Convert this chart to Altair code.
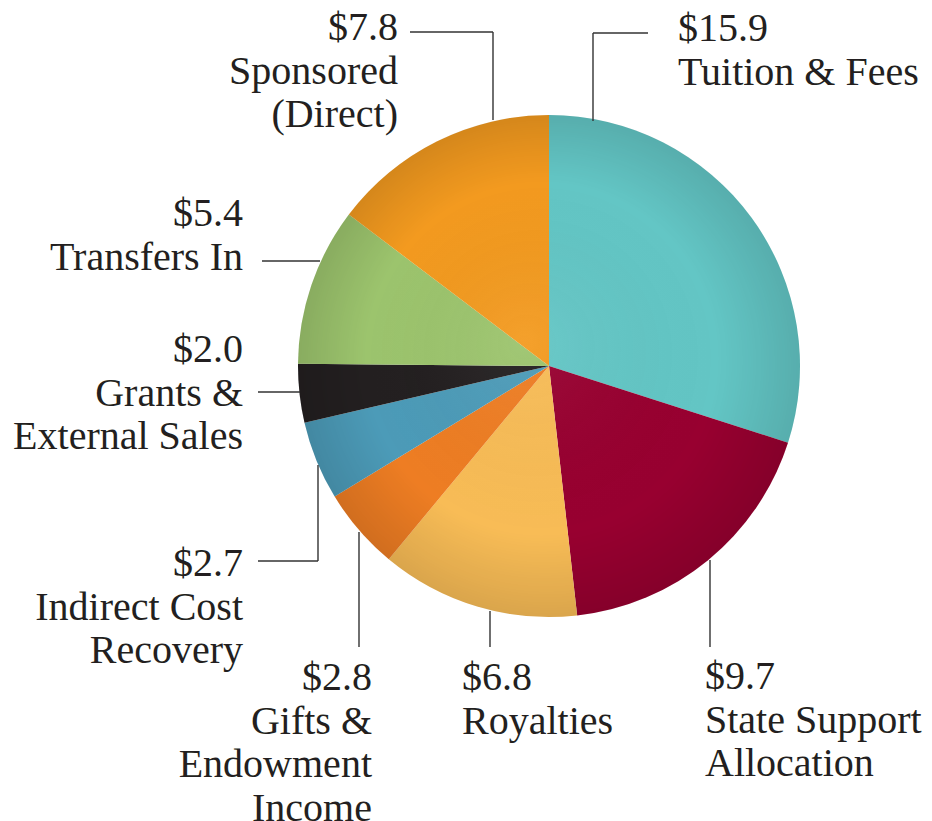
import altair as alt
import pandas as pd

# ---------------- data ----------------
categories = [
    "Tuition & Fees",
    "State Support Allocation",
    "Royalties",
    "Gifts & Endowment Income",
    "Indirect Cost Recovery",
    "Grants & External Sales",
    "Transfers In",
    "Sponsored (Direct)",
]
values = [15.9, 9.7, 6.8, 2.8, 2.7, 2.0, 5.4, 7.8]
label_lines = [
    ["Tuition & Fees"],
    ["State Support", "Allocation"],
    ["Royalties"],
    ["Gifts &", "Endowment", "Income"],
    ["Indirect Cost", "Recovery"],
    ["Grants &", "External Sales"],
    ["Transfers In"],
    ["Sponsored", "(Direct)"],
]
colors = [
    "#63C6C5",
    "#980030",
    "#F8BC56",
    "#EE7D23",
    "#4C9BB8",
    "#231F20",
    "#9CC46D",
    "#F39A1F",
]

# ---------------- layout (page pixels) ----------------
OFF = 8  # page margin
CX, CY, R = 549 - OFF, 366 - OFF, 251
LINE_H = 43.5
# first-line baseline anchor and alignment of each label block
label_anchor = [
    (678, 41, "left"),
    (705, 689, "left"),
    (462, 690, "left"),
    (372, 690, "right"),
    (243, 576, "right"),
    (243, 362, "right"),
    (243, 226, "right"),
    (398, 40, "right"),
]
# leader-line polylines
leaders = [
    [(648, 33), (593, 33), (593, 121)],
    [(710, 647), (710, 560)],
    [(490, 647), (490, 611)],
    [(359, 647), (359, 532)],
    [(258, 561), (318, 561), (318, 465)],
    [(258, 392), (300, 392)],
    [(262, 261), (320, 261)],
    [(410, 32), (493, 32), (493, 120)],
]

FONT = "Liberation Serif"
TXT = "#231F20"

# ---------------- tables ----------------
pie_df = pd.DataFrame(
    {"category": categories, "value": values, "order": list(range(len(values))), "color": colors}
)

rows = []
for i, (v, lines) in enumerate(zip(values, label_lines)):
    ax, ay, al = label_anchor[i]
    for j, t in enumerate([f"${v:.1f}"] + lines):
        rows.append({"x": ax - OFF, "y": ay - OFF + j * LINE_H, "text": t, "align": al})
text_df = pd.DataFrame(rows)

segs = []
for pts in leaders:
    for (x1, y1), (x2, y2) in zip(pts[:-1], pts[1:]):
        segs.append({"x": x1 - OFF, "y": y1 - OFF, "x2": x2 - OFF, "y2": y2 - OFF})
seg_df = pd.DataFrame(segs)

# ---------------- chart ----------------
pie = (
    alt.Chart(pie_df)
    .mark_arc(outerRadius=R, strokeWidth=0)
    .encode(
        theta=alt.Theta("value:Q", stack=True),
        order=alt.Order("order:Q"),
        color=alt.Color("color:N", scale=None),
        x=alt.value(CX),
        y=alt.value(CY),
    )
)

# subtle edge shading, as in the reference's lit pie
shade = (
    alt.Chart(pd.DataFrame({"k": [0]}))
    .mark_arc(
        outerRadius=R,
        theta=0,
        theta2=6.2832,
        strokeWidth=0,
        color=alt.RadialGradient(
            gradient="radial",
            x1=0.45, y1=0.45, r1=0,
            x2=0.5, y2=0.5, r2=0.5,
            stops=[
                alt.GradientStop(color="rgba(255,255,255,0.06)", offset=0),
                alt.GradientStop(color="rgba(0,0,0,0)", offset=0.7),
                alt.GradientStop(color="rgba(0,0,0,0.12)", offset=1),
            ],
        ),
    )
    .encode(x=alt.value(CX), y=alt.value(CY))
)

rules = (
    alt.Chart(seg_df)
    .mark_rule(color="#333333", strokeWidth=1.4)
    .encode(
        x=alt.X("x:Q", scale=None),
        y=alt.Y("y:Q", scale=None),
        x2="x2:Q",
        y2="y2:Q",
    )
)


def text_layer(al):
    return (
        alt.Chart(text_df)
        .transform_filter(alt.datum.align == al)
        .mark_text(align=al, baseline="alphabetic", font=FONT, fontSize=40, color=TXT)
        .encode(x=alt.X("x:Q", scale=None), y=alt.Y("y:Q", scale=None), text="text:N")
    )


chart = (
    alt.layer(pie, shade, rules, text_layer("left"), text_layer("right"))
    .properties(width=916, height=813, padding=0, autosize="none", background="white")
    .configure_view(stroke=None)
)

chart.save("out.html", embed_options={"renderer": "svg", "actions": False})
